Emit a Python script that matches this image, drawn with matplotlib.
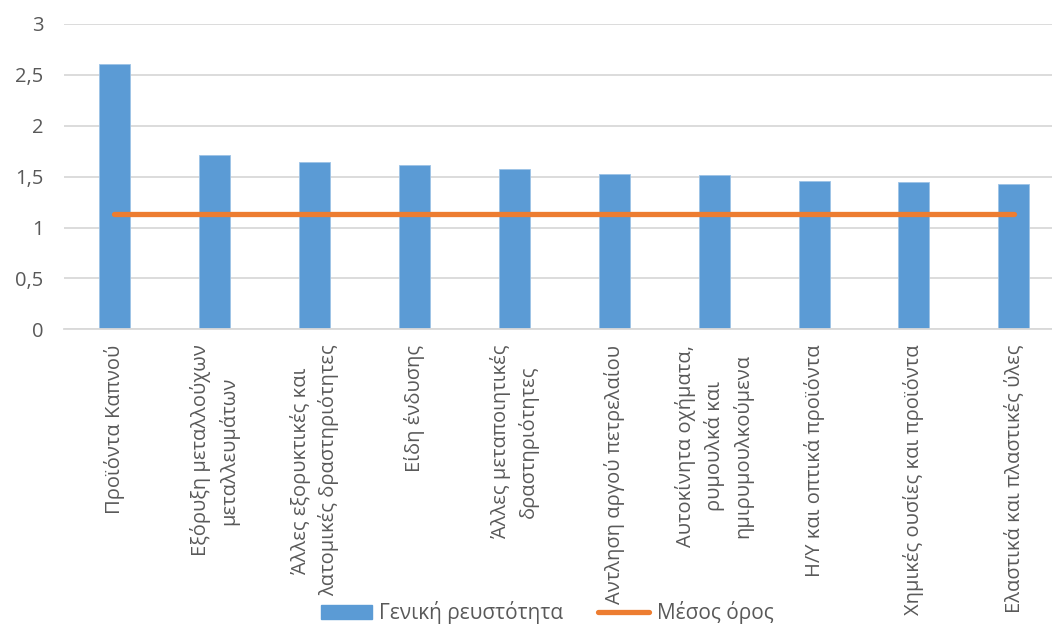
#!/usr/bin/env python3
# -*- coding: utf-8 -*-
import matplotlib.pyplot as plt
from matplotlib.lines import Line2D
from matplotlib.patches import Patch
from matplotlib.ticker import FuncFormatter

categories = [
    "Προϊόντα Καπνού",
    "Εξόρυξη μεταλλούχων\nμεταλλευμάτων",
    "Άλλες εξορυκτικές και\nλατομικές δραστηριότητες",
    "Είδη ένδυσης",
    "Άλλες μεταποιητικές\nδραστηριότητες",
    "Αντληση αργού πετρελαίου",
    "Αυτοκίνητα οχήματα,\nρυμουλκά και\nημιρυμουλκούμενα",
    "Η/Υ και οπτικά προϊόντα",
    "Χημικές ουσίες και προϊόντα",
    "Ελαστικά και πλαστικές ύλες",
]
liquidity = [2.61, 1.71, 1.64, 1.615, 1.58, 1.527, 1.514, 1.455, 1.445, 1.43]
average = [1.137, 1.137, 1.137, 1.137, 1.137, 1.137, 1.137, 1.137, 1.137, 1.137]
yticks = [0, 0.5, 1, 1.5, 2, 2.5, 3]

BLUE = "#5B9BD5"
ORANGE = "#ED7D31"
TEXT = "#595959"
GRID = "#D9D9D9"


def plot():
    plt.rcParams["font.family"] = ["Open Sans", "DejaVu Sans"]
    fig = plt.figure(figsize=(10.52, 6.28), dpi=100)
    ax = fig.add_axes([0.0613, 0.4756, 0.950, 0.4862])

    x = list(range(len(categories)))
    ax.bar(x, liquidity, width=0.31, color=BLUE, edgecolor="#9DC3E6",
           linewidth=0.6, zorder=2)
    ax.plot(x, average, color=ORANGE, linewidth=3.8, solid_capstyle="round",
            zorder=3)

    ax.set_xlim(-0.5, len(categories) - 0.5)
    ax.set_ylim(0, 3)
    ax.set_yticks(yticks)
    ax.yaxis.set_major_formatter(
        FuncFormatter(lambda v, p: ("%g" % v).replace(".", ",")))
    ax.grid(axis="y", color=GRID, linewidth=1.3, zorder=0)
    for s in ["top", "right", "left"]:
        ax.spines[s].set_visible(False)
    ax.spines["bottom"].set_color(GRID)
    ax.spines["bottom"].set_linewidth(1.3)
    ax.tick_params(axis="both", length=0, colors=TEXT, labelsize=14.5)
    ax.tick_params(axis="y", pad=15)

    ax.set_xticks(x)
    ax.set_xticklabels(categories, rotation=90, ha="center", va="top",
                       multialignment="center", color=TEXT, fontsize=14.5,
                       linespacing=1.45)
    ax.tick_params(axis="x", pad=11)

    handles = [Patch(facecolor=BLUE, edgecolor=BLUE),
               Line2D([0], [0], color=ORANGE, linewidth=3.8,
                      solid_capstyle="round")]
    fig.legend(handles, ["Γενική ρευστότητα", "Μέσος όρος"], loc="center",
               bbox_to_anchor=(0.52, 0.024), ncol=2, frameon=False,
               fontsize=15, labelcolor=TEXT, handlelength=2.45,
               handleheight=0.67, handletextpad=0.34, columnspacing=1.7,
               borderpad=0.1)

    fig.savefig("out.png", dpi=100)


if __name__ == '__main__':
    plot()
